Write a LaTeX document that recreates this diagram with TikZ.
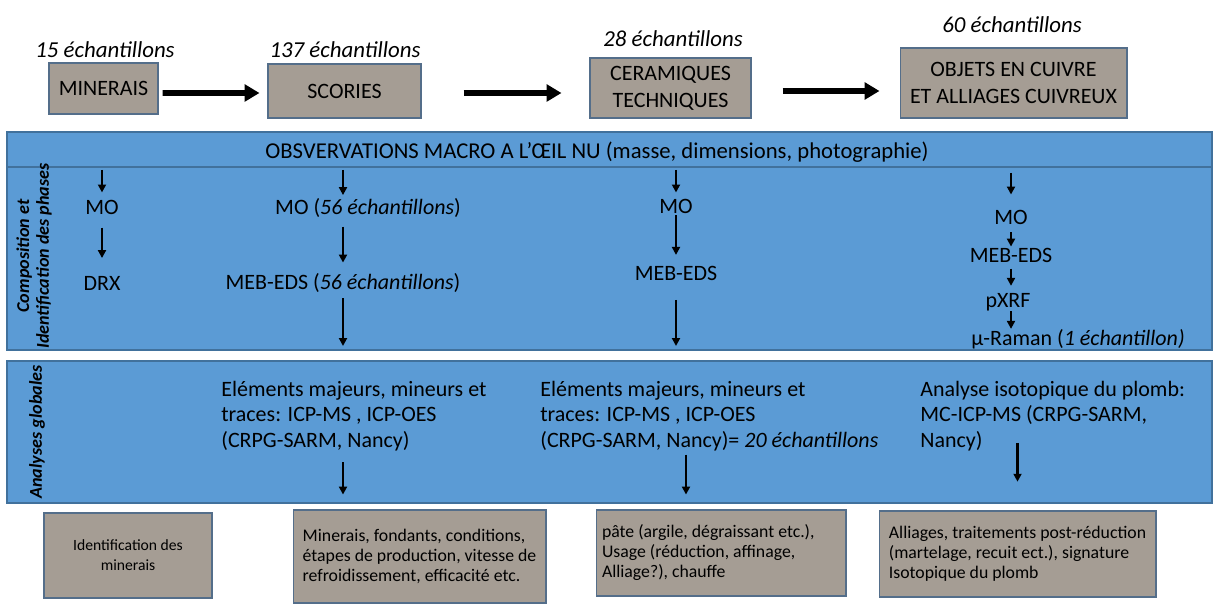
\documentclass[tikz,border=0pt]{standalone}
\usepackage{fontspec}
\setmainfont{Carlito}
\usetikzlibrary{arrows.meta}

\definecolor{bleu}{RGB}{91,155,213}
\definecolor{bordbleu}{RGB}{65,113,156}
\definecolor{gris}{RGB}{165,157,148}
\definecolor{bordgris}{RGB}{84,110,138}

\begin{document}
\begin{tikzpicture}[x=0.02cm, y=-0.02cm]
        % Styles définir
        \tikzstyle{boite} = [rectangle, draw=bordgris, fill=gris, line width=0.6pt, inner sep=0pt, text centered, font=\fontsize{12.5}{15.5}\selectfont]
        \tikzstyle{resultat} = [rectangle, draw=bordgris, fill=gris, line width=0.6pt, inner sep=0pt, align=flush left, font=\fontsize{10.1}{11.4}\selectfont]
        \tikzstyle{nombre} = [inner sep=0pt, font=\fontsize{13}{15}\selectfont\itshape]
        \tikzstyle{texte} = [inner sep=0pt, font=\fontsize{12.5}{14.7}\selectfont]
        \tikzstyle{bande} = [draw=bordbleu, fill=bleu, line width=0.6pt]
        \tikzstyle{titre} = [inner sep=0pt, rotate=90, align=center, font=\fontsize{10.3}{11.2}\selectfont\bfseries\itshape]
        \tikzstyle{grossefleche} = [line width=3.2pt, -{Triangle[length=8.5pt,width=9.5pt]}]
        \tikzstyle{fleche} = [line width=1.2pt, -{Triangle[length=4.5pt,width=4.5pt]}]

        \useasboundingbox (0,0) rectangle (1214,604);

        % Bandes de fond
        \draw [bande] (7,132) rectangle (1212,350);
        \draw [bande] (7,361) rectangle (1212,503);
        \draw [bordbleu, line width=0.6pt] (7,167) -- (1212,167);
        \coordinate (ligne) at (0,167);
        \coordinate (bas) at (0,346);
        \coordinate (col3) at (686,0);

        % Echantillons
        \node (minerais) [boite, minimum width=2.18cm, minimum height=1.02cm] at (103.5,88.5) {MINERAIS};
        \node (scories) [boite, minimum width=3.06cm, minimum height=1.08cm] at (344.5,91) {SCORIES};
        \node (ceram) [boite, minimum width=3.22cm, minimum height=1.2cm, align=center] at (670.5,88) {CERAMIQUES\\TECHNIQUES};
        \node (objets) [boite, minimum width=4.54cm, minimum height=1.4cm, align=center] at (1013.5,83) {OBJETS EN CUIVRE\\ET ALLIAGES CUIVREUX};

        \node (n1) [nombre] at (105,50) {15 échantillons};
        \node (n2) [nombre] at (345,50) {137 échantillons};
        \node (n3) [nombre] at (673,39) {28 échantillons};
        \node (n4) [nombre] at (1012,25) {60 échantillons};

        \draw [grossefleche] ([shift={(4,4.5)}]minerais.east) -- ([shift={(-8,2)}]scories.west);
        \draw [grossefleche] ([shift={(42,2)}]scories.east) -- ([shift={(-28,5)}]ceram.west);
        \draw [grossefleche] ([shift={(31,3)}]ceram.east) -- ([shift={(-20,8)}]objets.west);

        % Observations et phases
        \node (obs) [texte, font=\fontsize{12.9}{15}\selectfont] at (597,152) {OBSVERVATIONS MACRO A L’ŒIL NU (masse, dimensions, photographie)};
        \node (compo) [titre] at (34,256) {Composition et\\Identification des phases};

        \node (mo1) [texte] at (102,207) {MO};
        \node (drx1) [texte] at (102,283) {DRX};
        \node (mo2) [texte] at (368,208) {MO (\textit{56 échantillons})};
        \node (meb2) [texte] at (343,283) {MEB-EDS (\textit{56 échantillons})};
        \node (mo3) [texte] at (676,206) {MO};
        \node (meb3) [texte] at (676,273) {MEB-EDS};
        \node (mo4) [texte] at (1011,217) {MO};
        \node (meb4) [texte] at (1011,255) {MEB-EDS};
        \node (pxrf4) [texte] at (1008,302) {pXRF};
        \node (raman4) [texte] at (1078,339) {µ-Raman (\textit{1 échantillon)}};

        \draw [fleche, shorten <=1.7pt, shorten >=4pt] (ligne -| mo1) -- (mo1);
        \draw [fleche, shorten <=7.4pt, shorten >=10pt] (mo1) -- (drx1);
        \draw [fleche, shorten <=1.7pt, shorten >=1.7pt] (ligne -| meb2) -- (mo2.north -| meb2);
        \draw [fleche, shorten <=5pt, shorten >=6pt] (mo2.south -| meb2) -- (meb2);
        \draw [fleche, shorten <=3pt] (meb2) -- (bas -| meb2);
        \draw [fleche, shorten <=1.7pt, shorten >=3.4pt] (ligne -| mo3) -- (mo3);
        \draw [fleche, shorten <=1pt, shorten >=6pt] (mo3) -- (meb3);
        \draw [fleche, shorten <=11pt] (meb3) -- (bas -| meb3);
        \draw [fleche, shorten <=3.4pt, shorten >=8.5pt] (ligne -| mo4) -- (mo4);
        \draw [fleche, shorten <=4.5pt, shorten >=0.5pt] (mo4) -- (meb4);
        \draw [fleche, shorten <=3.4pt, shorten >=4pt] (meb4) -- (pxrf4.north -| meb4);
        \draw [fleche] (pxrf4.south -| meb4) -- (raman4.north -| meb4);

        % Analyses globales
        \node (glob) [titre] at (37,432) {Analyses globales};
        \node (el2) [texte, anchor=west, align=left] at (221,416) {Eléments majeurs, mineurs et\\traces: ICP-MS , ICP-OES\\(CRPG-SARM, Nancy)};
        \node (el3) [texte, anchor=west, align=left] at (540,416) {Eléments majeurs, mineurs et\\traces: ICP-MS , ICP-OES\\(CRPG-SARM, Nancy)= \textit{20 échantillons}};
        \node (iso4) [texte, anchor=west, align=left] at (920,416) {Analyse isotopique du plomb:\\MC-ICP-MS (CRPG-SARM,\\Nancy)};

        % Interpretations
        \node (res1) [resultat, align=center, minimum width=3.36cm, minimum height=1.7cm, font=\fontsize{8.9}{11.3}\selectfont] at (128,555.5) {Identification des\\minerais};
        \node (res2) [resultat, minimum width=5.06cm, minimum height=1.86cm] at (419.5,556.5) {Minerais, fondants, conditions,\\étapes de production, vitesse de\\refroidissement, efficacité etc.};
        \node (res3) [resultat, text width=4.76cm, inner xsep=0.12cm, minimum height=1.72cm] at (721,553) {pâte (argile, dégraissant etc.),\\Usage (réduction, affinage,\\Alliage?), chauffe};
        \node (res4) [resultat, minimum width=5.54cm, minimum height=1.72cm] at (1017.5,554) {Alliages, traitements post-réduction\\(martelage, recuit ect.), signature\\Isotopique du plomb};

        \draw [fleche, shorten <=6.2pt, shorten >=8.5pt] (el2.south -| meb2) -- (res2.north -| meb2);
        \draw [fleche, shorten <=1.7pt, shorten >=8.5pt] (el3.south -| col3) -- (res3.north -| col3);
        \draw [fleche, shorten <=-5pt, shorten >=16.4pt] (iso4.south -| res4) -- (res4);

\end{tikzpicture}
\end{document}
